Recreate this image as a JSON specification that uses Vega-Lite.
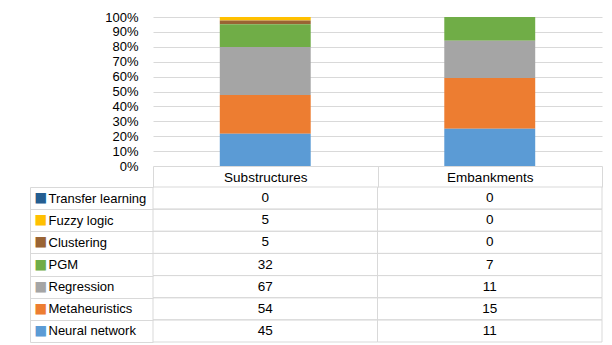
{
  "$schema": "https://vega.github.io/schema/vega-lite/v6.json",
  "padding": {"left": 29, "top": 11, "right": 5, "bottom": 0},
  "config": {
    "font": "Liberation Sans",
    "view": {"stroke": null},
    "axis": {"labelFont": "Liberation Sans", "labelFontSize": 13, "labelColor": "#000000"}
  },
  "data": {
    "values": [
      {"category": "Substructures", "method": "Transfer learning", "count": 0},
      {"category": "Substructures", "method": "Fuzzy logic", "count": 5},
      {"category": "Substructures", "method": "Clustering", "count": 5},
      {"category": "Substructures", "method": "PGM", "count": 32},
      {"category": "Substructures", "method": "Regression", "count": 67},
      {"category": "Substructures", "method": "Metaheuristics", "count": 54},
      {"category": "Substructures", "method": "Neural network", "count": 45},
      {"category": "Embankments", "method": "Transfer learning", "count": 0},
      {"category": "Embankments", "method": "Fuzzy logic", "count": 0},
      {"category": "Embankments", "method": "Clustering", "count": 0},
      {"category": "Embankments", "method": "PGM", "count": 7},
      {"category": "Embankments", "method": "Regression", "count": 11},
      {"category": "Embankments", "method": "Metaheuristics", "count": 15},
      {"category": "Embankments", "method": "Neural network", "count": 11}
    ]
  },
  "bounds": "flush",
  "spacing": 21,
  "resolve": {"scale": {"x": "independent", "y": "independent"}},
  "vconcat": [
    {
      "width": 449,
      "height": 149,
      "transform": [
        {"calculate": "indexof(['Neural network', 'Metaheuristics', 'Regression', 'PGM', 'Clustering', 'Fuzzy logic', 'Transfer learning'], datum.method)", "as": "stackOrder"}
      ],
      "mark": {"type": "bar", "width": {"band": 0.405}},
      "encoding": {
        "x": {
          "field": "category", "type": "nominal",
          "sort": ["Substructures", "Embankments"],
          "scale": {"paddingInner": 0, "paddingOuter": 0},
          "axis": {"title": null, "labelAngle": 0, "domain": false, "grid": false,
                   "tickBand": "extent", "tickSize": 21, "tickColor": "#d9d9d9",
                   "labelBaseline": "middle", "labelPadding": -10, "labelFontSize": 13.5}
        },
        "y": {
          "field": "count", "type": "quantitative", "stack": "normalize",
          "scale": {"domain": [0, 1]},
          "axis": {"title": null, "format": ".0%",
                   "values": [0, 0.1, 0.2, 0.3, 0.4, 0.5, 0.6, 0.7, 0.8, 0.9, 1],
                   "domain": false, "ticks": false, "labelPadding": 15,
                   "grid": true, "gridColor": "#d9d9d9"}
        },
        "order": {"field": "stackOrder", "type": "quantitative", "sort": "ascending"},
        "color": {
          "field": "method", "type": "nominal",
          "scale": {
            "domain": ["Neural network", "Metaheuristics", "Regression", "PGM", "Clustering", "Fuzzy logic", "Transfer learning"],
            "range": ["#5b9bd5", "#ed7d31", "#a5a5a5", "#70ad47", "#9a6434", "#ffc000", "#255e91"]
          },
          "legend": null
        }
      }
    },
    {
      "width": 449,
      "height": 155,
      "resolve": {"axis": {"y": "independent"}},
      "layer": [
        {
          "mark": {"type": "rect", "fill": "transparent", "stroke": "#d9d9d9", "strokeWidth": 1},
          "encoding": {
            "x": {"field": "category", "type": "nominal", "sort": ["Substructures", "Embankments"],
                  "scale": {"paddingInner": 0, "paddingOuter": 0}, "axis": null},
            "y": {"field": "method", "type": "nominal",
                  "sort": ["Transfer learning", "Fuzzy logic", "Clustering", "PGM", "Regression", "Metaheuristics", "Neural network"],
                  "scale": {"paddingInner": 0, "paddingOuter": 0},
                  "axis": {"orient": "left", "offset": 123, "title": null, "domain": true, "domainColor": "#d9d9d9",
                           "ticks": false, "tickSize": 0, "grid": false,
                           "labelExpr": "'■'", "labelAlign": "left", "labelPadding": -4, "labelFontSize": 13.5,
                           "labelFont": "DejaVu Sans",
                           "labelColor": {
                             "condition": [
                               {"test": "datum.value === 'Transfer learning'", "value": "#255e91"},
                               {"test": "datum.value === 'Fuzzy logic'", "value": "#ffc000"},
                               {"test": "datum.value === 'Clustering'", "value": "#9a6434"},
                               {"test": "datum.value === 'PGM'", "value": "#70ad47"},
                               {"test": "datum.value === 'Regression'", "value": "#a5a5a5"},
                               {"test": "datum.value === 'Metaheuristics'", "value": "#ed7d31"}
                             ],
                             "value": "#5b9bd5"
                           }}}
          }
        },
        {
          "mark": {"type": "text", "fontSize": 13.5, "color": "#000000", "font": "Liberation Sans"},
          "encoding": {
            "x": {"field": "category", "type": "nominal", "sort": ["Substructures", "Embankments"],
                  "scale": {"paddingInner": 0, "paddingOuter": 0}, "axis": null},
            "y": {"field": "method", "type": "nominal",
                  "sort": ["Transfer learning", "Fuzzy logic", "Clustering", "PGM", "Regression", "Metaheuristics", "Neural network"],
                  "scale": {"paddingInner": 0, "paddingOuter": 0},
                  "axis": {"orient": "left", "title": null, "domain": false, "grid": false,
                           "ticks": true, "tickBand": "extent", "tickSize": 123, "tickColor": "#d9d9d9",
                           "labelAlign": "left", "labelPadding": -18, "labelFontSize": 13}},
            "text": {"field": "count", "type": "quantitative"}
          }
        }
      ]
    }
  ]
}
